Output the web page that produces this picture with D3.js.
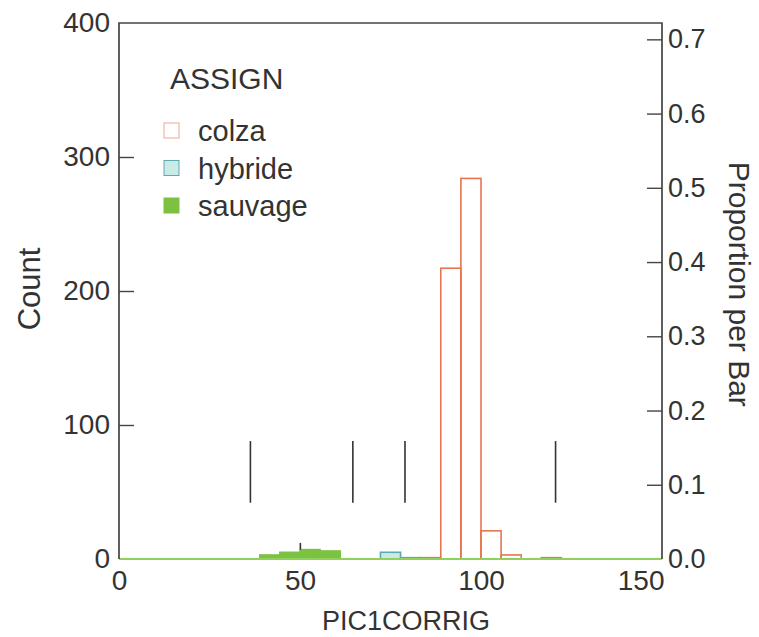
<!DOCTYPE html>
<html>
<head>
<meta charset="utf-8">
<script src="https://cdn.jsdelivr.net/npm/d3@7"></script>
<style>
  body { margin: 0; background: #fff; }
  text { font-family: "Liberation Sans", Arial, sans-serif; fill: #333; }
</style>
</head>
<body>
<div id="container"></div>
<script>
/**
 * DATA
 * */
const xMax = 150, nBins = 27;                 // bins of width 150/27
const groups = ["colza", "hybride", "sauvage"];
const colzaCounts   = [0,0,0,0,0,0,0,0,0,0,0,0,0,0,0,1,217,284,21,3,0,1,0,0,0,0,0];
const hybrideCounts = [0,0,0,0,0,0,0,0,0,0,0,0,0,5,1,0,0,0,0,0,0,0,0,0,0,0,0];
const sauvageCounts = [0,0,0,0,0,0,0,3,5,7,6,0,0,0,0,0,0,0,0,0,0,0,0,0,0,0,0];
const xTicks = [0, 50, 100, 150];
const countTicks = [0, 100, 200, 300, 400];
const propTicks = [0, 0.1, 0.2, 0.3, 0.4, 0.5, 0.6, 0.7];
// vertical marker lines: [x, countLow, countHigh]
const markers = [[36.3, 42, 88], [64.6, 42, 88], [79.0, 42, 88], [120.6, 42, 88], [50.1, 7, 12]];

/**
 * CONSTANTS
 * */
const width = 759, height = 637;
const margin = {top: 23, bottom: 78, left: 119, right: 97};
const colors = {colza: "#e8744f", hybride: "#c9ebe6", sauvage: "#7cc242"};
const strokes = {colza: "#e8744f", hybride: "#5fa9b2", sauvage: "#7cc242"};

const series = {colza: colzaCounts, hybride: hybrideCounts, sauvage: sauvageCounts};
const total = d3.sum(groups.map(g => d3.sum(series[g])));
const binW = xMax / nBins;

const svg = d3.select("#container").append("svg")
  .attr("width", width).attr("height", height);

const x = d3.scaleLinear().domain([0, xMax]).range([margin.left, width - margin.right]);
const y = d3.scaleLinear().domain([0, 400]).range([height - margin.bottom, margin.top]);
const yP = d3.scaleLinear().domain([0, 400 / total]).range([height - margin.bottom, margin.top]);

// bars
groups.slice().reverse().forEach(g => {
  const bins = series[g].map((c, i) => ({x0: i * binW, x1: (i + 1) * binW, c})).filter(d => d.c > 0);
  svg.append("g").selectAll("rect").data(bins).join("rect")
    .attr("x", d => x(d.x0))
    .attr("y", d => y(d.c))
    .attr("width", d => x(d.x1) - x(d.x0))
    .attr("height", d => y(0) - y(d.c))
    .attr("fill", g === "colza" ? "none" : colors[g])
    .attr("stroke", strokes[g])
    .attr("stroke-width", 1.6);
});

// green baseline
svg.append("line")
  .attr("x1", x(0)).attr("x2", x(xMax))
  .attr("y1", y(0)).attr("y2", y(0))
  .attr("stroke", "#8fd15a").attr("stroke-width", 2);

// markers
svg.append("g").selectAll("line").data(markers).join("line")
  .attr("x1", d => x(d[0])).attr("x2", d => x(d[0]))
  .attr("y1", d => y(d[1])).attr("y2", d => y(d[2]))
  .attr("stroke", "#333").attr("stroke-width", 1.6);

// frame
const frame = "#444";
svg.append("path")
  .attr("d", `M${x(0)},${y(0)}V${y(400)}H${x(xMax)}V${y(0)}`)
  .attr("fill", "none").attr("stroke", frame).attr("stroke-width", 1.7);

// left axis
const yAxis = svg.append("g").attr("transform", `translate(${x(0)},0)`)
  .call(d3.axisRight(y).tickValues(countTicks).tickSize(15).tickFormat(d3.format("d")));
yAxis.select(".domain").remove();
yAxis.selectAll(".tick line").attr("stroke", frame).attr("stroke-width", 1.4)
  .filter(d => d === 0 || d === 400).remove();
yAxis.selectAll(".tick text").attr("x", -9).attr("text-anchor", "end")
  .style("font-size", "28px").attr("fill", "#333");

// right axis
const pAxis = svg.append("g").attr("transform", `translate(${x(xMax)},0)`)
  .call(d3.axisLeft(yP).tickValues(propTicks).tickSize(15).tickFormat(d3.format(".1f")));
pAxis.select(".domain").remove();
pAxis.selectAll(".tick line").attr("stroke", frame).attr("stroke-width", 1.4)
  .filter(d => d === 0).remove();
pAxis.selectAll(".tick text").attr("x", 6).attr("text-anchor", "start")
  .style("font-size", "27px").attr("fill", "#333");

// bottom axis (labels only)
const xAxis = svg.append("g").attr("transform", `translate(0,${y(0)})`)
  .call(d3.axisBottom(x).tickValues(xTicks).tickSize(0).tickFormat(d3.format("d")));
xAxis.select(".domain").remove();
xAxis.selectAll(".tick text").attr("y", 11).style("font-size", "28px").attr("fill", "#333")
  .filter(d => d === xMax).attr("text-anchor", "end").attr("dx", 2);

// axis titles
svg.append("text").attr("x", 406).attr("y", 630).attr("text-anchor", "middle")
  .style("font-size", "27px").text("PIC1CORRIG");
svg.append("text").attr("transform", `translate(40,${y(200) - 2}) rotate(-90)`)
  .attr("text-anchor", "middle").style("font-size", "31px").text("Count");
svg.append("text").attr("transform", `translate(729,${y(205)}) rotate(90)`)
  .attr("text-anchor", "middle").style("font-size", "30px").text("Proportion per Bar");

// legend
const leg = svg.append("g").attr("transform", "translate(164,0)");
leg.append("text").attr("x", 6).attr("y", 89).style("font-size", "30px").text("ASSIGN");
groups.forEach((g, i) => {
  const yy = 130 + i * 37.5;
  leg.append("rect").attr("x", 0).attr("y", yy - 7).attr("width", 15).attr("height", 15)
    .attr("fill", g === "colza" ? "#fff" : colors[g])
    .attr("stroke", g === "colza" ? "#eaa898" : strokes[g]).attr("stroke-width", 1);
  leg.append("text").attr("x", 34).attr("y", yy + 11).style("font-size", "29px").text(g);
});
</script>
</body>
</html>
